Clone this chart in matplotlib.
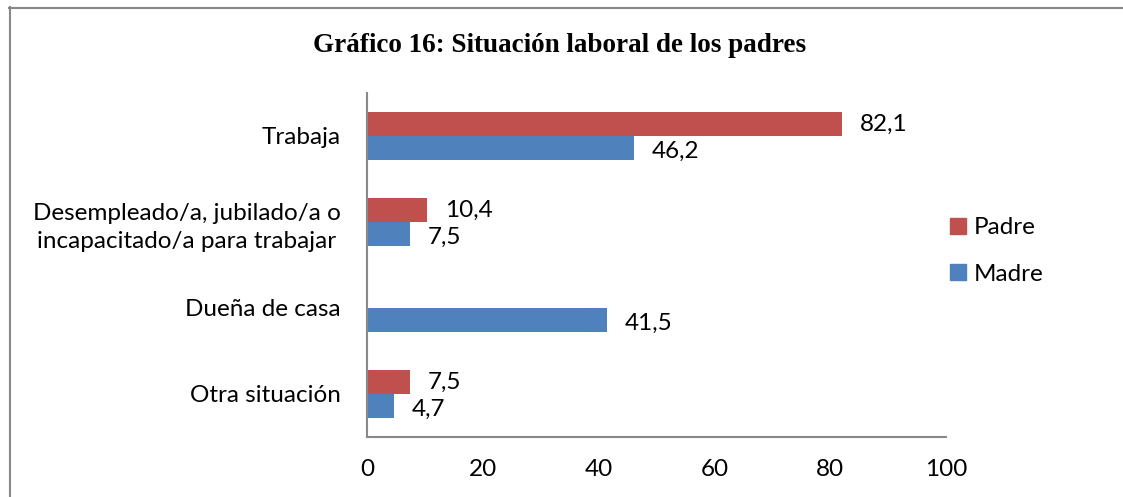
import matplotlib.pyplot as plt
import numpy as np
from matplotlib.lines import Line2D

categories = ["Trabaja", "Desempleado/a, jubilado/a o\nincapacitado/a para trabajar",
              "Dueña de casa", "Otra situación"]
padre = [82.1, 10.4, None, 7.5]
madre = [46.2, 7.5, 41.5, 4.7]
xticks = [0, 20, 40, 60, 80, 100]

red = "#C0504D"
blue = "#4F81BD"
font = "Lato"
fs = 17.5

fig = plt.figure(figsize=(11.23, 4.97), dpi=100)
ax = fig.add_axes([367 / 1123, 1 - 437 / 497, (946 - 367) / 1123, (437 - 93) / 497])

y = np.arange(len(categories))
h = 0.28
for i in range(len(categories)):
    if padre[i] is not None:
        ax.barh(y[i] - h / 2, padre[i], height=h, color=red)
        ax.text(padre[i] + 3, y[i] - h / 2, f"{padre[i]:.1f}".replace(".", ","),
                va="center", ha="left", fontsize=fs, family=font)
    ax.barh(y[i] + h / 2, madre[i], height=h, color=blue)
    ax.text(madre[i] + 3, y[i] + h / 2 + 0.04, f"{madre[i]:.1f}".replace(".", ","),
            va="center", ha="left", fontsize=fs, family=font)

ax.set_ylim(len(categories) - 0.5, -0.5)
ax.set_xlim(0, 100)
ax.set_xticks(xticks)
ax.set_xticklabels([str(t) for t in xticks], fontsize=fs, family=font)
ax.set_yticks(y)
ax.set_yticklabels(categories, fontsize=fs, family=font, ha="right",
                   multialignment="center", linespacing=1.4)
ax.tick_params(length=0, pad=16, axis="x")
ax.tick_params(length=0, pad=19, axis="y")
for s in ["top", "right"]:
    ax.spines[s].set_visible(False)
for s in ["left", "bottom"]:
    ax.spines[s].set_color("#888888")
    ax.spines[s].set_linewidth(1.5)

handles = [plt.Rectangle((0, 0), 1, 1, color=red), plt.Rectangle((0, 0), 1, 1, color=blue)]
fig.legend(handles, ["Padre", "Madre"], loc="center left", bbox_to_anchor=(928 / 1123, 1 - 251 / 497),
           frameon=False, prop={"family": font, "size": fs},
           handlelength=0.65, handleheight=0.65, handletextpad=0.35, labelspacing=1.05)

fig.text(560 / 1123, 1 - 46 / 497, "Gráfico 16: Situación laboral de los padres",
         ha="center", va="center", fontsize=19.5, fontweight="bold", family="Liberation Serif")

fig.add_artist(Line2D([9 / 1123, 1], [1 - 7.5 / 497, 1 - 7.5 / 497], transform=fig.transFigure,
                      color="#888888", lw=1.5))
fig.add_artist(Line2D([9.5 / 1123, 9.5 / 1123], [0, 1 - 7 / 497], transform=fig.transFigure,
                      color="#888888", lw=1.5))

fig.savefig("out.png", dpi=100)
